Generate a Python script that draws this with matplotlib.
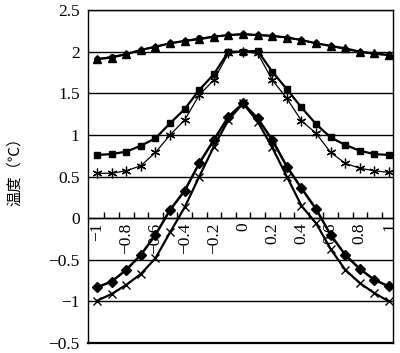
import numpy as np
import matplotlib
matplotlib.use("Agg")
import matplotlib.pyplot as plt
from matplotlib.ticker import FixedLocator

plt.rcParams['font.family'] = ['Liberation Serif', 'DejaVu Serif']
plt.rcParams['axes.unicode_minus'] = True

# ---------------------------------------------------------------------------
# data
x = [-1.0, -0.9, -0.8, -0.7, -0.6, -0.5, -0.4, -0.3, -0.2, -0.1, 0.0,
     0.1, 0.2, 0.3, 0.4, 0.5, 0.6, 0.7, 0.8, 0.9, 1.0]

triangles = [1.91, 1.93, 1.97, 2.02, 2.06, 2.10, 2.13, 2.15, 2.18, 2.20, 2.21,
             2.20, 2.19, 2.17, 2.14, 2.10, 2.07, 2.04, 2.00, 1.98, 1.96]
circles = [1.91, 1.94, 1.97, 2.02, 2.06, 2.10, 2.13, 2.16, 2.18, 2.20, 2.21,
           2.20, 2.19, 2.17, 2.14, 2.10, 2.07, 2.03, 2.00, 1.97, 1.96]
squares = [0.76, 0.77, 0.80, 0.87, 0.96, 1.14, 1.31, 1.54, 1.73, 2.00, 2.00,
           2.01, 1.76, 1.55, 1.33, 1.13, 0.97, 0.88, 0.81, 0.77, 0.76]
stars = [0.54, 0.54, 0.57, 0.63, 0.79, 1.00, 1.18, 1.48, 1.66, 1.98, 2.00,
         1.98, 1.66, 1.44, 1.17, 1.02, 0.79, 0.66, 0.60, 0.57, 0.55]
diamonds = [-0.83, -0.76, -0.62, -0.44, -0.20, 0.10, 0.33, 0.66, 0.94, 1.22, 1.38,
            1.20, 0.94, 0.62, 0.36, 0.11, -0.20, -0.44, -0.61, -0.74, -0.82]
crosses = [-0.99, -0.91, -0.80, -0.67, -0.48, -0.17, 0.13, 0.50, 0.86, 1.18, 1.38,
           1.16, 0.85, 0.50, 0.15, -0.06, -0.37, -0.62, -0.78, -0.90, -1.00]

xtick_labels = ['\u22121', '\u22120.8', '\u22120.6', '\u22120.4', '\u22120.2', '0',
                '0.2', '0.4', '0.6', '0.8', '1']
ytick_values = [2.5, 2.0, 1.5, 1.0, 0.5, 0.0, -0.5, -1.0, -1.5]
ytick_labels = ['2.5', '2', '1.5', '1', '0.5', '0', '\u22120.5', '\u22121', '\u22120.5']

# ---------------------------------------------------------------------------
fig = plt.figure(figsize=(4.0, 3.53), dpi=100)
ax = fig.add_axes([0.22, 0.028, 0.7625, 0.9435])

ax.plot(x, triangles, color='black', lw=1.6, marker='^', ms=5.5, zorder=3)
ax.plot(x, circles, color='black', lw=1.2, marker='o', ms=4, zorder=3)
ax.plot(x, squares, color='black', lw=1.6, marker='s', ms=5, zorder=3)
ax.plot(x, stars, color='black', lw=0.9, marker=(6, 2, 0), ms=7, mew=0.9, zorder=3)
ax.plot(x, diamonds, color='black', lw=1.8, marker='D', ms=5, zorder=3)
ax.plot(x, crosses, color='black', lw=1.6, marker='x', ms=6, mew=1.0, zorder=3)

ax.set_xlim(-1.062, 1.027)
ax.set_ylim(-1.5, 2.5)

# horizontal grid lines
ax.set_yticks(ytick_values)
ax.set_yticklabels(ytick_labels, fontsize=12.5)
ax.yaxis.grid(True, color='black', lw=1.0)
ax.tick_params(axis='y', length=0, pad=6)

# x axis crossing at zero, category style ticks
ax.spines['bottom'].set_position(('data', 0))
ax.spines['bottom'].set_linewidth(1.0)
ax.set_xticks(x[::2])
ax.set_xticklabels(xtick_labels, rotation=90, fontsize=12.5)
ax.xaxis.set_minor_locator(FixedLocator(np.arange(-0.95, 1.0, 0.1)))
ax.tick_params(axis='x', which='major', length=0, pad=3)
ax.tick_params(axis='x', which='minor', direction='in', length=4, width=1.0)

for side in ['left', 'right', 'top']:
    ax.spines[side].set_linewidth(1.0)

# bottom frame line (the x axis sits at zero)
ax.axhline(-1.5, color='black', lw=1.6, clip_on=False)

ax.set_ylabel('温度（℃）', family=['Noto Sans CJK SC', 'DejaVu Sans'], fontsize=11)
ax.yaxis.set_label_coords(-0.212, 0.525)

fig.savefig('out.png', dpi=100)
